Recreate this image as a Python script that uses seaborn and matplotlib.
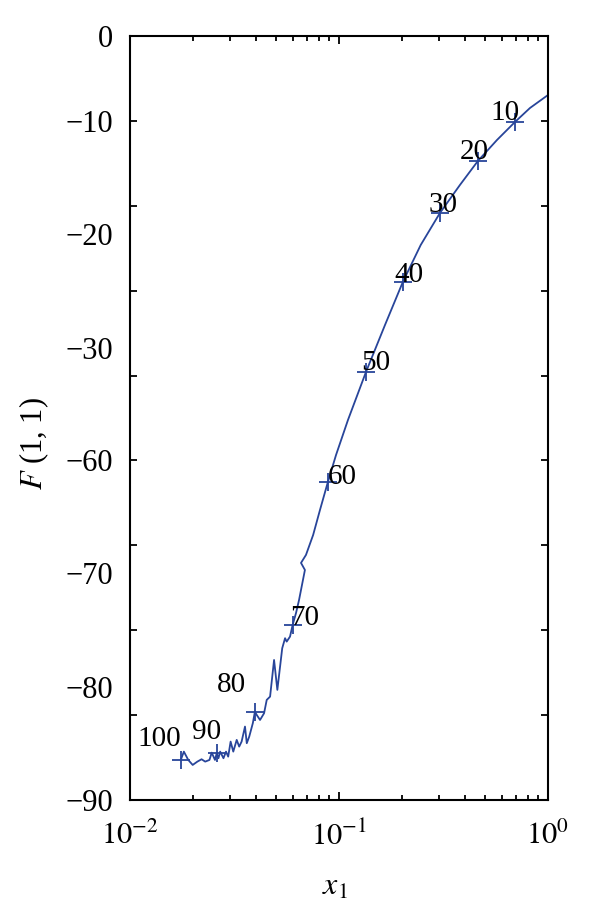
import numpy as np
import pandas as pd
import matplotlib
matplotlib.use("Agg")
import matplotlib.pyplot as plt
import matplotlib.ticker as mticker
import seaborn as sns

# curve vertices (x1, F(1,1))
curve_x = [1.0, 0.820, 0.695, 0.570, 0.462, 0.379, 0.304, 0.246, 0.202, 0.166,
           0.1346, 0.1104, 0.0968, 0.0885, 0.0811, 0.0752, 0.0695, 0.0658, 0.0687,
           0.0644, 0.0623, 0.0600, 0.0583, 0.0562, 0.0552, 0.0535, 0.0507, 0.0489,
           0.0468, 0.0451, 0.0438, 0.0419, 0.0404, 0.0396, 0.0387, 0.0372, 0.0362,
           0.0355, 0.0342, 0.0333, 0.0324, 0.0312, 0.0303, 0.0295, 0.0288, 0.0280,
           0.0270, 0.0265, 0.0260, 0.0255, 0.0246, 0.0240, 0.0229, 0.0220, 0.0210,
           0.01995, 0.0190, 0.0181, 0.0175]
curve_y = [-6.95, -8.48, -10.13, -12.25, -14.72, -17.55, -20.85, -24.62, -28.98, -34.04,
           -39.58, -45.23, -49.35, -52.53, -55.83, -58.78, -61.13, -62.07, -62.9,
           -66.43, -67.96, -69.38, -70.75, -71.34, -70.94, -72.12, -77.03, -73.5,
           -77.82, -78.21, -79.78, -80.57, -79.98, -79.59, -80.95, -82.53, -83.31,
           -81.35, -83.12, -83.71, -82.92, -84.3, -83.12, -84.89, -84.3, -85.08,
           -84.3, -85.08, -84.49, -85.28, -84.42, -85.28, -85.48, -85.2, -85.48,
           -85.87, -85.28, -84.3, -85.28]

# labelled iterations
iter_labels = ["10", "20", "30", "40", "50", "60", "70", "80", "90", "100"]
mark_x = [0.695, 0.462, 0.304, 0.202, 0.1346, 0.0885, 0.0600, 0.0396, 0.0260, 0.0175]
mark_y = [-10.13, -14.72, -20.85, -28.98, -39.58, -52.53, -69.38, -79.59, -84.49, -85.28]

# y tick labels as printed in the figure
ylab_pos = [0, -10, -23.3, -36.7, -50, -63.3, -76.7, -90]
ylab_txt = ["0", "\u221210", "\u221220", "\u221230", "\u221260", "\u221270", "\u221280", "\u221290"]
ytick_pos = [0, -10, -20, -30, -40, -50, -60, -70, -80, -90]

sns.set_style("ticks")
plt.rcParams['font.family'] = ['Liberation Serif', 'DejaVu Serif']
plt.rcParams['mathtext.fontset'] = 'stix'
plt.rcParams['text.color'] = 'black'

blue = '#28459a'
fig = plt.figure(figsize=(6, 9.16), dpi=100)
ax = fig.add_axes([130 / 600, 1 - 800 / 916, 418 / 600, 764 / 916])

df = pd.DataFrame({'x': curve_x, 'y': curve_y})
sns.lineplot(data=df, x='x', y='y', sort=False, estimator=None, color=blue,
             linewidth=1.3, ax=ax)
sns.scatterplot(x=mark_x, y=mark_y, marker='+', s=160, color=blue, linewidth=1.3,
                ax=ax, zorder=3)

# label offsets in pixels
offs = [(-10, 9), (-4, 9), (3, 8), (6, 7), (10, 9), (14, 5), (12, 7), (-23, 27),
        (-10, 21), (-22, 21)]
for t, xx, yy, (dx, dy) in zip(iter_labels, mark_x, mark_y, offs):
    ax.annotate(t, (xx, yy), xytext=(dx, dy), textcoords='offset pixels',
                ha='center', va='center', fontsize=21, color='black')

ax.set_xscale('log')
ax.set_xlim(0.01, 1.0)
ax.set_ylim(-90, 0)

ax.xaxis.set_major_locator(mticker.FixedLocator([0.01, 0.1, 1.0]))
ax.xaxis.set_major_formatter(mticker.FixedFormatter(['$10^{-2}$', '$10^{-1}$', '$10^{0}$']))
ax.xaxis.set_minor_locator(mticker.LogLocator(base=10, subs=np.arange(2, 10)))
ax.xaxis.set_minor_formatter(mticker.NullFormatter())

ax.yaxis.remove_overlapping_locs = False
ax.yaxis.set_major_locator(mticker.FixedLocator(ylab_pos))
ax.yaxis.set_major_formatter(mticker.FixedFormatter(ylab_txt))
ax.yaxis.set_minor_locator(mticker.FixedLocator(ytick_pos))

ax.tick_params(axis='both', which='both', direction='in', top=True, right=True,
               width=1.3, colors='black', labelsize=22)
ax.tick_params(axis='x', which='major', length=6, pad=16)
ax.tick_params(axis='x', which='minor', length=3.5)
ax.tick_params(axis='y', which='major', length=0, pad=12)
ax.tick_params(axis='y', which='minor', length=5)

for s in ax.spines.values():
    s.set_linewidth(1.5)
    s.set_color('black')

ax.set_xlabel('$x_1$', fontsize=23, color='black')
ax.set_ylabel('$F$ (1, 1)', fontsize=22, color='black')
ax.xaxis.set_label_coords(0.49, -0.095)
ax.yaxis.set_label_coords(-0.19, 0.467)

fig.savefig('out.png', dpi=100)
